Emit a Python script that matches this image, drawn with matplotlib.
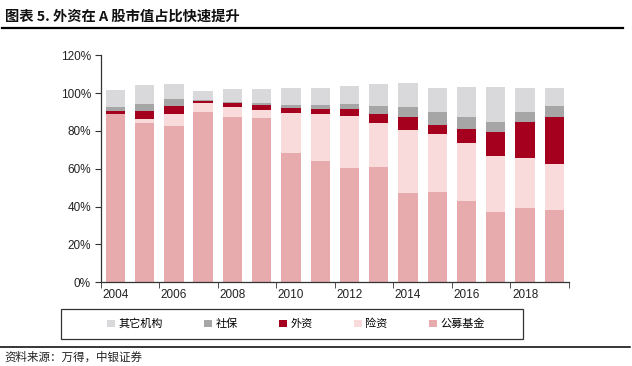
import matplotlib
matplotlib.use("Agg")
import matplotlib.pyplot as plt
from matplotlib.patches import Rectangle
from matplotlib.lines import Line2D
import numpy as np

plt.rcParams['font.family'] = ['Noto Sans CJK SC', 'DejaVu Sans']

years = [str(y) for y in range(2004, 2020)]
gongmu = [88.8, 84.0, 82.6, 90.2, 87.6, 86.9, 68.5, 64.1, 60.6, 61.0, 47.2, 47.8, 43.0, 37.2, 39.3, 38.4]
xianzi = [0.3, 2.2, 6.2, 4.8, 4.9, 4.2, 21.2, 24.9, 27.3, 23.1, 33.2, 30.4, 30.7, 29.6, 26.6, 24.2]
waizi = [1.6, 4.5, 4.6, 1.1, 2.1, 2.5, 2.6, 2.6, 3.6, 4.7, 7.2, 5.1, 7.2, 12.8, 19.0, 25.0]
shebao = [1.8, 3.5, 3.4, 0.3, 0.9, 1.4, 1.4, 2.1, 2.8, 4.6, 5.3, 6.9, 6.3, 5.0, 5.3, 5.8]
qita = [9.1, 10.1, 7.9, 4.8, 6.7, 7.2, 9.2, 9.2, 9.5, 11.3, 12.3, 12.7, 16.1, 18.7, 12.7, 9.5]

series = [
    ('公募基金', gongmu, '#E7AAAD'),
    ('险资', xianzi, '#F9DBDC'),
    ('外资', waizi, '#A6001F'),
    ('社保', shebao, '#A6A6A6'),
    ('其它机构', qita, '#D9D9DC'),
]

fig = plt.figure(figsize=(6.32, 3.66), dpi=100)
ax = fig.add_axes([100.7/632, 1-282.3/366, (569-100.7)/632, (282.3-55.3)/366])

x = np.arange(len(years))
bottom = np.zeros(len(years))
handles = {}
for name, vals, col in series:
    v = np.array(vals)
    b = ax.bar(x, v, 0.66, bottom=bottom, color=col, edgecolor='none', label=name)
    handles[name] = b
    bottom += v

ax.set_xlim(-0.5, len(years)-0.5)
ax.set_ylim(0, 120)
ax.set_yticks(range(0, 121, 20))
ax.set_yticklabels([f'{v}%' for v in range(0, 121, 20)], family='Liberation Sans', fontsize=8.5, color='#222222')
ax.set_xticks(x[::2])
ax.set_xticklabels(years[::2], family='Liberation Sans', fontsize=8.5, color='#222222')
ax.set_xticks(np.arange(-0.5, len(years), 2), minor=True)
ax.tick_params(axis='x', which='major', length=0, pad=5)
ax.tick_params(axis='x', which='minor', length=4, direction='out', color='#333333')
ax.tick_params(axis='y', length=4, direction='out', color='#333333', pad=3)
for s in ['top', 'right']:
    ax.spines[s].set_visible(False)
for s in ['left', 'bottom']:
    ax.spines[s].set_color('#333333')
    ax.spines[s].set_linewidth(0.9)

# title and rules
fig.text(5/632, 1-17/366, '图表 5. 外资在 A 股市值占比快速提升', fontsize=10.3, fontweight='bold',
         ha='left', va='center', color='#111111')
fig.add_artist(Line2D([2/632, 623/632], [1-27.5/366]*2, color='black', lw=1.6))
fig.add_artist(Line2D([0, 630/632], [1-346.5/366]*2, color='black', lw=1.1))
fig.text(4/632, 1-357/366, '资料来源：万得，中银证券', fontsize=8.3, ha='left', va='center',
         color='#222222', style='italic')

# legend box
fig.add_artist(Rectangle((61/632, 1-339.3/366), (522.7-61)/632, (339.3-309)/366,
                         transform=fig.transFigure, fill=False, edgecolor='#333333', lw=0.9))
order = ['其它机构', '社保', '外资', '险资', '公募基金']
fig.legend([handles[n] for n in order], order, loc='center',
           bbox_to_anchor=(296/632, 1-324/366), ncol=5, frameon=False,
           fontsize=8, handlelength=0.7, handleheight=0.7, handletextpad=0.3,
           columnspacing=3.75)

fig.savefig('out.png', dpi=100)
